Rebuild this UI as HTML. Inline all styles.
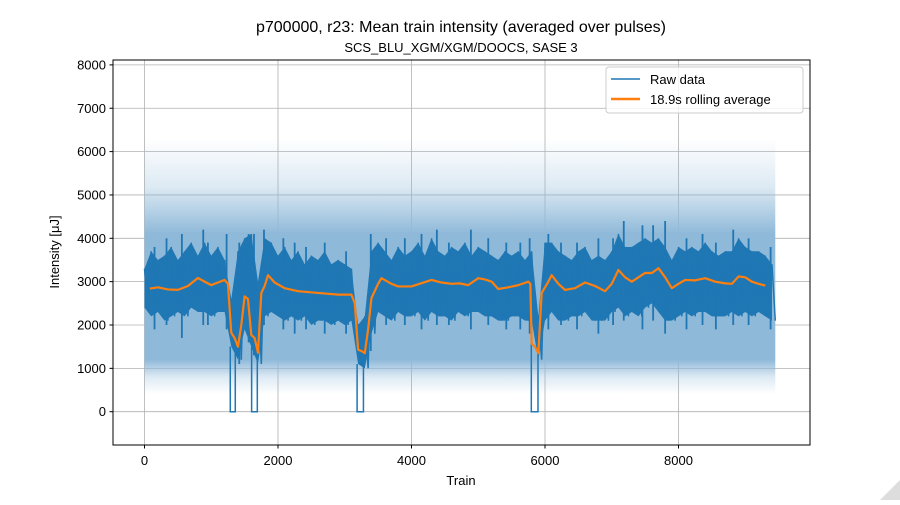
<!DOCTYPE html>
<html><head><meta charset="utf-8">
<style>
body{margin:0;background:#fff;}
svg text{font-family:"Liberation Sans","DejaVu Sans",sans-serif;fill:#000;}
</style></head>
<body>
<svg id="chart" width="900" height="500" viewBox="0 0 900 500" xmlns="http://www.w3.org/2000/svg">
<rect width="900" height="500" fill="#fff"/>
<defs>
<linearGradient id="lightGrad" gradientUnits="userSpaceOnUse" x1="0" y1="0" x2="0" y2="500">
<stop id="g0" offset="0" stop-color="#8fb9d9" stop-opacity="0"/>
<stop id="g1" offset="0" stop-color="#8fb9d9" stop-opacity="0.3"/>
<stop id="g2" offset="0" stop-color="#8fb9d9" stop-opacity="1"/>
<stop id="g3" offset="0" stop-color="#8fb9d9" stop-opacity="1"/>
<stop id="g4" offset="0" stop-color="#8fb9d9" stop-opacity="0.3"/>
<stop id="g5" offset="0" stop-color="#8fb9d9" stop-opacity="0"/>
</linearGradient>
<clipPath id="plotClip"><rect x="113" y="60" width="697" height="385"/></clipPath>
</defs>
<text x="461" y="32" font-size="16" text-anchor="middle">p700000, r23: Mean train intensity (averaged over pulses)</text>
<text x="461" y="52" font-size="13" text-anchor="middle">SCS_BLU_XGM/XGM/DOOCS, SASE 3</text>
<g id="grid"></g>
<g id="series" clip-path="url(#plotClip)"></g>
<rect x="113" y="60" width="697" height="385" fill="none" stroke="#000" stroke-width="1"/>
<g id="ticks"></g>
<text x="461" y="485" font-size="13" text-anchor="middle">Train</text>
<text transform="translate(59,252) rotate(-90)" font-size="13" text-anchor="middle">Intensity [μJ]</text>
<g>
<rect x="606" y="67" width="197" height="46" rx="3" fill="#fff" fill-opacity="0.8" stroke="#ccc"/>
<line x1="611" y1="79" x2="640" y2="79" stroke="#1f77b4" stroke-width="1.5"/>
<text x="650" y="84" font-size="13">Raw data</text>
<line x1="611" y1="99" x2="640" y2="99" stroke="#ff7f0e" stroke-width="2.5"/>
<text x="650" y="104" font-size="13">18.9s rolling average</text>
</g>
<polygon points="880,500 900,480 900,500" fill="#ddd"/>
</svg>
<script>
const xTicks=[0,2000,4000,6000,8000];
const yTicks=[0,1000,2000,3000,4000,5000,6000,7000,8000];
const rawStep=100;
const rawHi=[3300,3700,3500,3600,3800,3500,3700,3900,3600,3900,
3600,3800,3500,2600,3700,4000,4100,3000,4000,3900,
3600,3800,3500,3700,3400,3600,3500,3700,3400,3500,
3400,3300,2000,2200,3700,3900,3700,3500,3800,3600,
3700,3900,3600,4000,3700,3600,3800,3700,3900,3600,
3800,3700,3600,3500,3700,3600,3700,3500,3700,2200,
3900,3900,3700,3600,3500,3700,3800,3500,3600,3500,
3700,4100,3800,3800,3900,4000,3900,4000,3800,3500,
3800,3700,3800,3700,3900,3700,3600,3700,3700,4000,
3800,3700,3700,3600,3400];
const rawLo=[2400,2200,2300,2100,2200,2300,2200,2400,2300,2300,
2200,2300,2300,1500,1200,1900,1500,1100,2200,2300,
2200,2100,2200,2100,2200,2000,2100,2100,2000,2100,
2000,2100,1100,1000,1800,2300,2200,2100,2300,2200,
2200,2300,2100,2300,2200,2200,2100,2300,2200,2300,
2300,2200,2200,2100,2100,2200,2200,2100,2100,1200,
2100,2300,2100,2100,2200,2200,2300,2100,2100,2100,
2300,2400,2200,2300,2200,2400,2500,2300,2100,2100,
2200,2300,2200,2300,2300,2200,2200,2200,2300,2200,
2300,2200,2300,2200,2100];
const spikeX=[150,330,560,880,950,1230,1420,1560,1640,1790,2080,2250,2420,2700,3020,3390,3620,3900,4150,4380,4560,4890,5150,5420,5630,5770,6050,6240,6480,6800,7020,7180,7460,7620,7800,8120,8360,8560,8820,9050,9380];
const spikeHi=[3800,4000,4100,4200,3900,4100,3900,4100,4100,4200,4000,3900,3800,3900,3700,4100,4000,4000,4100,4200,3900,4200,4000,3900,3900,4000,4100,3900,3900,4000,4000,4400,4300,4300,4400,4000,4100,3900,4200,4000,3800];
const spikeLo=[1900,2000,1700,2000,2000,1900,1100,1600,1300,2000,1900,1800,1900,1800,1800,1400,2000,2000,1900,2000,2000,1900,2000,1900,1900,1800,1900,2000,1900,1800,2000,2100,1900,2100,1800,1900,2000,1900,2000,2000,1900];
const dropStart=[1285,1605,3185,5795];
const dropEnd=[1360,1690,3280,5895];
const rollX=[80,200,350,500,650,800,900,1000,1100,1200,1250,1300,1350,1400,1450,1500,1550,1600,1650,1700,1750,1800,1850,1950,2100,2300,2600,2900,3100,3150,3200,3250,3300,3350,3400,3500,3550,3700,3800,4000,4300,4450,4600,4720,4850,5000,5100,5200,5300,5450,5600,5750,5780,5800,5850,5900,5950,6050,6100,6200,6300,6450,6600,6750,6900,7000,7100,7200,7300,7400,7500,7600,7700,7800,7900,8000,8100,8250,8400,8550,8700,8800,8900,9000,9100,9200,9300];
const rollY=[2840,2870,2820,2810,2900,3085,3000,2920,2980,3040,2950,1820,1700,1500,2000,2660,2600,1770,1700,1360,2740,2900,3150,2980,2850,2780,2740,2700,2700,2500,1430,1400,1350,1900,2620,2950,3080,2950,2890,2890,3040,2980,2950,2960,2920,3080,3050,3000,2830,2870,2920,3000,2950,1570,1500,1350,2740,3000,3150,2950,2810,2850,2980,2900,2780,2950,3270,3100,3000,3100,3200,3200,3310,3100,2850,2950,3040,3030,3080,3000,2960,2950,3120,3100,3000,2950,2910];
const lightX=[0,9450];
const lightTop=[6500,6500];
const lightBottom=[400,400];
const fadeLevels=[6300,5200,4100,1200,800,400];

const NS="http://www.w3.org/2000/svg";
const xS=v=>144.5+v*0.06675;
const yS=v=>411.7-v*0.04335;
function mk(tag,attrs,parent){const e=document.createElementNS(NS,tag);for(const k in attrs)e.setAttribute(k,attrs[k]);parent.appendChild(e);return e;}
const grid=document.getElementById('grid'),ticks=document.getElementById('ticks'),series=document.getElementById('series');
xTicks.forEach(t=>{const x=xS(t);
const g=mk('line',{x1:x,x2:x,y1:60,y2:445,stroke:'#b0b0b0','stroke-width':0.8},grid);


const tk=mk('line',{x1:x,x2:x,y1:445,y2:448.5,stroke:'#000'},ticks);


const tx=mk('text',{x:x,y:465,'font-size':13,'text-anchor':'middle'},ticks);tx.textContent=t;

});
yTicks.forEach(t=>{const y=yS(t);
const g=mk('line',{x1:113,x2:810,y1:y,y2:y,stroke:'#b0b0b0','stroke-width':0.8},grid);


const tk=mk('line',{x1:109.5,x2:113,y1:y,y2:y,stroke:'#000'},ticks);


const tx=mk('text',{x:106,y:y+4.5,'font-size':13,'text-anchor':'end'},ticks);tx.textContent=t;

});
const gids=['g0','g1','g2','g3','g4','g5'];
fadeLevels.forEach((v,i)=>document.getElementById(gids[i]).setAttribute('offset',(yS(v)/500).toFixed(4)));
let lp=lightX.map((x,i)=>xS(x)+','+yS(lightTop[i]));
for(let i=lightX.length-1;i>=0;i--)lp.push(xS(lightX[i])+','+yS(lightBottom[i]));
const light=mk('polygon',{points:lp.join(' '),fill:'url(#lightGrad)'},series);


let dp=[];rawHi.forEach((v,i)=>dp.push(xS(i*rawStep)+','+yS(v)));
for(let i=rawLo.length-1;i>=0;i--)dp.push(xS(i*rawStep)+','+yS(rawLo[i]));
const band=mk('polygon',{points:dp.join(' '),fill:'#1f77b4'},series);


let zz=[];rawHi.forEach((v,i)=>{zz.push(xS(i*rawStep)+','+yS(v));zz.push(xS(i*rawStep+50)+','+yS(rawLo[i]));});
const zig=mk('polyline',{points:zz.join(' '),fill:'none',stroke:'#1f77b4','stroke-width':1.5},series);


spikeX.forEach((s,i)=>{
const sp=mk('line',{x1:xS(s),x2:xS(s),y1:yS(spikeHi[i]),y2:yS(spikeLo[i]),stroke:'#1f77b4','stroke-width':1.8},series);

});
dropStart.forEach((s,i)=>{const e=dropEnd[i];const idx=Math.round(s/rawStep);const top=rawLo[Math.min(idx,rawLo.length-1)];
const d=`M${xS(s)},${yS(top)} L${xS(s)},${yS(0)} L${xS(e)},${yS(0)} L${xS(e)},${yS(top)}`;
const p=mk('path',{d:d,fill:'none',stroke:'#1f77b4','stroke-width':1.5},series);

});
const ra=mk('polyline',{points:rollX.map((x,i)=>xS(x)+','+yS(rollY[i])).join(' '),fill:'none',stroke:'#ff7f0e','stroke-width':2.2,'stroke-linejoin':'round'},series);


</script>
</body></html>
